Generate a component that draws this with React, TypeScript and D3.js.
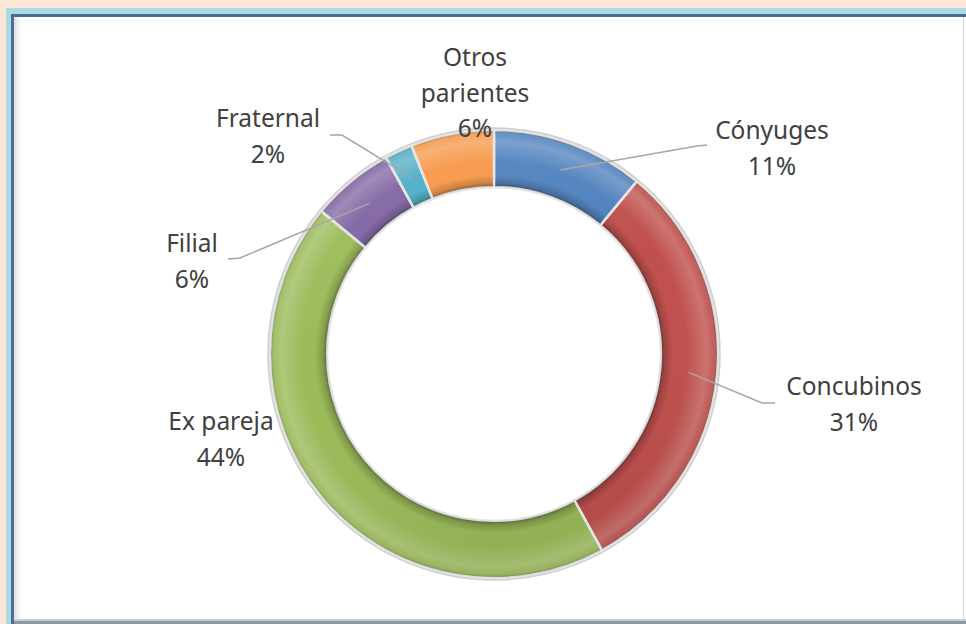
import * as d3 from 'd3'

// data
const categories = ['Cónyuges', 'Concubinos', 'Ex pareja', 'Filial', 'Fraternal', 'Otros parientes']
const values = [11, 31, 44, 6, 2, 6]
const colors = ['#4f81bd', '#c0504d', '#9bbb59', '#8064a2', '#4bacc6', '#f79646']
const labelLines = [['Cónyuges'], ['Concubinos'], ['Ex pareja'], ['Filial'], ['Fraternal'], ['Otros', 'parientes']]

// layout
const W = 966
const H = 624
const cx = 494
const cy = 354
const outerR = 224
const innerR = 167
const lineH = 35.5

// label placement: x = centre, y = baseline of first line; anchor = end of leader line
const labelPos = [
  { x: 772, y: 139, anchor: [707, 145], elbow: [697, 146] },
  { x: 854, y: 395, anchor: [775, 403], elbow: [762, 403] },
  { x: 221, y: 430, anchor: null, elbow: null },
  { x: 192, y: 252, anchor: [228, 259], elbow: [240, 258] },
  { x: 268, y: 127, anchor: [330, 135], elbow: [342, 135] },
  { x: 475, y: 66, anchor: null, elbow: null },
]

interface Slice {
  name: string
  value: number
  color: string
  idx: number
}

export default function App() {
  const data: Slice[] = categories.map((name, i) => ({ name, value: values[i], color: colors[i], idx: i }))
  const total = d3.sum(values)

  const pie = d3.pie<Slice>().value(d => d.value).sort(null)
  const arcs = pie(data)
  const arc = d3.arc<d3.PieArcDatum<Slice>>().innerRadius(innerR).outerRadius(outerR)
  const mid = d3.arc<d3.PieArcDatum<Slice>>().innerRadius((innerR + outerR) / 2).outerRadius((innerR + outerR) / 2)
  const ring = d3.arc()({ innerRadius: innerR, outerRadius: outerR, startAngle: 0, endAngle: Math.PI * 2 }) as string

  const fmt = (v: number) => `${Math.round((v / total) * 100)}%`

  return (
    <svg width={W} height={H} style={{ position: 'absolute', left: 0, top: 0 }}>
      <defs>
        <radialGradient id="bevel" gradientUnits="userSpaceOnUse" cx={0} cy={0} r={outerR}>
          <stop offset={innerR / outerR} stopColor="#000" stopOpacity={0.45} />
          <stop offset={(innerR + 4) / outerR} stopColor="#000" stopOpacity={0.18} />
          <stop offset={(innerR + 12) / outerR} stopColor="#000" stopOpacity={0} />
          <stop offset={0.86} stopColor="#fff" stopOpacity={0} />
          <stop offset={0.95} stopColor="#fff" stopOpacity={0.2} />
          <stop offset={0.98} stopColor="#fff" stopOpacity={0.08} />
          <stop offset={1} stopColor="#000" stopOpacity={0.35} />
        </radialGradient>
        <linearGradient id="light" x1="0" y1="0" x2="0.3" y2="1">
          <stop offset="0" stopColor="#fff" stopOpacity={0.1} />
          <stop offset="0.5" stopColor="#fff" stopOpacity={0} />
          <stop offset="1" stopColor="#000" stopOpacity={0.06} />
        </linearGradient>
        <linearGradient id="leftShade" x1="0" y1="0" x2="1" y2="0">
          <stop offset="0" stopColor="#c8ccd2" stopOpacity={0.7} />
          <stop offset="1" stopColor="#fff" stopOpacity={0} />
        </linearGradient>
      </defs>

      {/* frame */}
      <rect x={0} y={0} width={W} height={H} fill="#fde6d6" />
      <rect x={6} y={8} width={W} height={H} fill="#a9dbe2" />
      <rect x={11} y={14} width={W} height={H} fill="#4d6d8e" />
      <rect x={14} y={17} width={W} height={602} fill="#fff" />
      <rect x={14} y={17} width={10} height={602} fill="url(#leftShade)" />
      <line x1={963.5} y1={17} x2={963.5} y2={619} stroke="#d4d8dc" strokeWidth={1} />
      <rect x={14} y={619} width={W} height={2} fill="#c9ced3" />
      <rect x={14} y={621} width={W} height={3} fill="#8c98a4" />

      <g transform={`translate(${cx},${cy})`}>
        <circle r={outerR + 1.5} fill="none" stroke="#cfcfcf" strokeWidth={2.5} />
        {arcs.map(a => (
          <path key={a.data.name} d={arc(a) as string} fill={a.data.color} stroke="#e2e2e2" strokeWidth={2.5} />
        ))}
        <path d={ring} fill="url(#bevel)" />
        <path d={ring} fill="url(#light)" />
        {arcs.map(a => (
          <path key={`e-${a.data.name}`} d={arc(a) as string} fill="none" stroke="#e4e4e4" strokeWidth={2} strokeOpacity={0.9} />
        ))}
      </g>

      {/* leader lines */}
      {arcs.map(a => {
        const p = labelPos[a.data.idx]
        if (!p.anchor || !p.elbow) return null
        const [mx, my] = mid.centroid(a)
        const pts: [number, number][] = [[cx + mx, cy + my], p.elbow as [number, number], p.anchor as [number, number]]
        return (
          <path key={`l-${a.data.name}`} d={d3.line()(pts) as string} fill="none" stroke="#a6a6a6" strokeWidth={1.5} />
        )
      })}

      {/* labels */}
      {arcs.map(a => {
        const p = labelPos[a.data.idx]
        const lines = [...labelLines[a.data.idx], fmt(a.data.value)]
        return (
          <text
            key={`t-${a.data.name}`}
            x={p.x}
            y={p.y}
            textAnchor="middle"
            fontFamily="'Noto Sans', sans-serif"
            fontSize={24.5}
            fill="#404040"
          >
            {lines.map((t, j) => (
              <tspan key={j} x={p.x} y={p.y + j * lineH}>{t}</tspan>
            ))}
          </text>
        )
      })}
    </svg>
  )
}
